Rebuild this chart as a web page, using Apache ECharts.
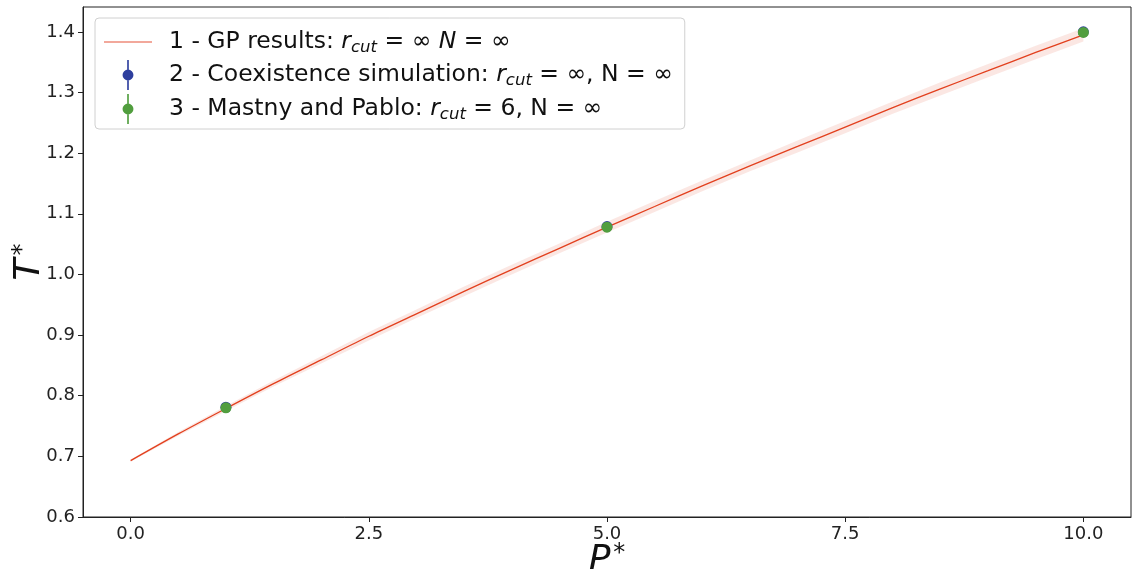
<!DOCTYPE html>
<html>
<head>
<meta charset="utf-8">
<script src="https://cdn.jsdelivr.net/npm/echarts@6/dist/echarts.min.js"></script>
<style>html,body{margin:0;padding:0;background:#fff}#c{width:1139px;height:569px}</style>
</head>
<body>
<div id="c"></div>
<script>
// ---- data ----
const gpP = [0, 0.5, 1, 1.5, 2, 2.5, 3, 3.5, 4, 4.5, 5, 5.5, 6, 6.5, 7, 7.5, 8, 8.5, 9, 9.5, 10];
const gpT = [0.693, 0.737, 0.779, 0.820, 0.859, 0.898, 0.935, 0.972, 1.008, 1.043, 1.078, 1.112, 1.146, 1.179, 1.211, 1.243, 1.275, 1.306, 1.336, 1.366, 1.395];
const gpLower = [0.691, 0.734, 0.775, 0.815, 0.853, 0.891, 0.928, 0.964, 1.000, 1.035, 1.069, 1.103, 1.137, 1.170, 1.201, 1.233, 1.265, 1.295, 1.325, 1.355, 1.384];
const gpUpper = [0.695, 0.740, 0.783, 0.825, 0.865, 0.905, 0.942, 0.980, 1.016, 1.051, 1.087, 1.121, 1.155, 1.188, 1.221, 1.253, 1.285, 1.317, 1.347, 1.377, 1.406];
const coexP = [1, 5, 10];
const coexT = [0.781, 1.079, 1.400];
const mpP = [1, 5, 10];
const mpT = [0.780, 1.078, 1.399];
const xTicks = [0, 2.5, 5, 7.5, 10];
const yTicks = [0.6, 0.7, 0.8, 0.9, 1.0, 1.1, 1.2, 1.3, 1.4];
const names = ['gp', 'coex', 'mp'];

const FONT = 'DejaVu Sans';
const zip = (a, b) => a.map((v, i) => [v, b[i]]);
const errIcon = 'path://M4.4,0 L5.6,0 L5.6,22 L4.4,22 Z M5,7 A4,4 0 1 1 4.999,7 Z';
const lineIcon = 'path://M0,0 L48,0 L48,1.6 L0,1.6 Z';

const chart = echarts.init(document.getElementById('c'));
chart.setOption({
  animation: false,
  backgroundColor: '#fff',
  grid: { left: 83, right: 8, top: 7, bottom: 52, show: true, borderColor: '#222', borderWidth: 1,
          containLabel: false, outerBoundsMode: 'none' },
  legend: {
    orient: 'vertical', left: 95, top: 18,
    padding: [12, 12, 5, 9],
    itemWidth: 48, itemHeight: 30, itemGap: 4,
    backgroundColor: 'rgba(255,255,255,0.85)',
    borderColor: '#d0d0d0', borderWidth: 1, borderRadius: 4,
    symbolKeepAspect: true,
    data: [
      { name: 'gp', icon: lineIcon, itemStyle: { color: '#ee8b7a' }, lineStyle: { color: '#ee8b7a', width: 1.6 } },
      { name: 'coex', icon: errIcon, itemStyle: { color: '#2e3f9e', opacity: 1 } },
      { name: 'mp', icon: errIcon, itemStyle: { color: '#519e3e', opacity: 1 } }
    ],
    formatter: function (n) {
      if (n === 'gp') return '{sp|}{n|1 - GP results: }{i|r}{s|cut}{n| = ∞ }{i|N}{n| = ∞}';
      if (n === 'coex') return '{sp|}{n|2 - Coexistence simulation: }{i|r}{s|cut}{n| = ∞, N = ∞}';
      return '{sp|}{n|3 - Mastny and Pablo: }{i|r}{s|cut}{n| = 6, N = ∞}';
    },
    textStyle: {
      fontFamily: FONT, fontSize: 23.5, color: '#111',
      rich: {
        sp: { width: 12 },
        n: { fontFamily: FONT, fontSize: 23.5, lineHeight: 28, color: '#111' },
        i: { fontFamily: FONT, fontStyle: 'italic', fontSize: 23.5, lineHeight: 28, color: '#111' },
        s: { fontFamily: FONT, fontStyle: 'italic', fontSize: 16.5, lineHeight: 16, color: '#111', verticalAlign: 'bottom' }
      }
    }
  },
  xAxis: {
    type: 'value', min: -0.5, max: 10.5,
    name: '{t|P}{s|*}', nameLocation: 'middle', nameGap: 25, nameMoveOverlap: false,
    nameTextStyle: { rich: {
      t: { fontFamily: FONT, fontStyle: 'italic', fontSize: 36, color: '#111' },
      s: { fontFamily: FONT, fontSize: 24, color: '#111', verticalAlign: 'top', padding: [0, 0, 14, 3] }
    } },
    splitLine: { show: false },
    axisLine: { show: true, onZero: false, lineStyle: { color: '#222' } },
    axisTick: { show: true, length: 5, customValues: xTicks, lineStyle: { color: '#222' } },
    axisLabel: { customValues: xTicks, fontFamily: FONT, fontSize: 18, color: '#222', margin: 8,
      formatter: v => v.toFixed(1) }
  },
  yAxis: {
    type: 'value', min: 0.6, max: 1.441,
    name: '{t|T}{s|*}', nameLocation: 'middle', nameGap: 34, nameRotate: 90, nameMoveOverlap: false,
    nameTextStyle: { rich: {
      t: { fontFamily: FONT, fontStyle: 'italic', fontSize: 36, color: '#111' },
      s: { fontFamily: FONT, fontSize: 24, color: '#111', verticalAlign: 'top', padding: [0, 0, 14, 3] }
    } },
    splitLine: { show: false },
    axisLine: { show: true, onZero: false, lineStyle: { color: '#222' } },
    axisTick: { show: true, length: 5, customValues: yTicks, lineStyle: { color: '#222' } },
    axisLabel: { customValues: yTicks, fontFamily: FONT, fontSize: 18, color: '#222', margin: 8,
      formatter: v => v.toFixed(1) }
  },
  series: [
    {
      type: 'custom', name: 'band', silent: true, z: 1,
      data: [[0, 0]],
      renderItem: function (params, api) {
        const pts = [];
        for (let i = 0; i < gpP.length; i++) pts.push(api.coord([gpP[i], gpUpper[i]]));
        for (let i = gpP.length - 1; i >= 0; i--) pts.push(api.coord([gpP[i], gpLower[i]]));
        return { type: 'polygon', shape: { points: pts }, style: { fill: 'rgba(226,70,40,0.13)' } };
      }
    },
    {
      type: 'line', name: names[0], data: zip(gpP, gpT), symbol: 'none', smooth: 0.3, z: 2,
      lineStyle: { color: '#e2401e', width: 1.3 }, itemStyle: { color: '#e2401e' }
    },
    {
      type: 'scatter', name: names[1], data: zip(coexP, coexT), symbol: 'circle', symbolSize: 11, z: 3,
      itemStyle: { color: '#2e3f9e', opacity: 1 }
    },
    {
      type: 'scatter', name: names[2], data: zip(mpP, mpT), symbol: 'circle', symbolSize: 11, z: 4,
      itemStyle: { color: '#519e3e', opacity: 1 }
    }
  ]
});
</script>
</body>
</html>
